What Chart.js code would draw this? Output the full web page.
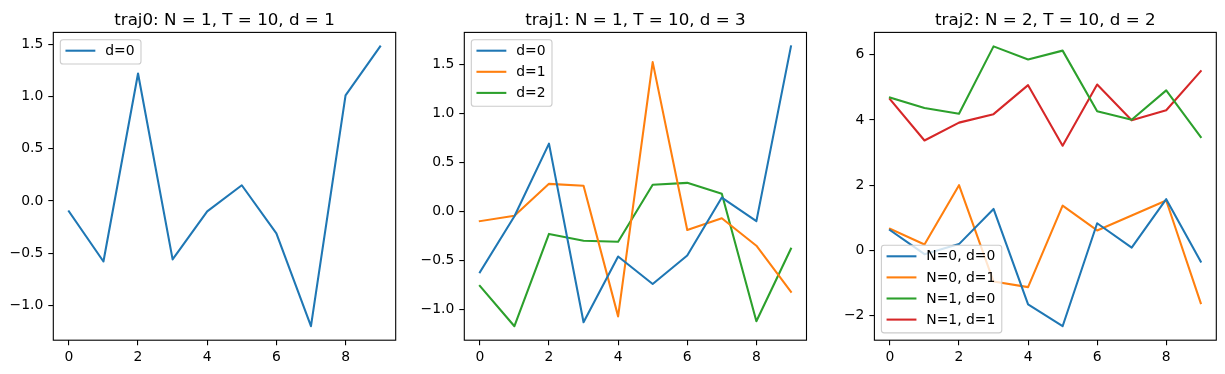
<!DOCTYPE html>
<html><head><meta charset="utf-8">
<script src="https://cdn.jsdelivr.net/npm/chart.js@4.4.0/dist/chart.umd.min.js"></script>
<style>
html,body{margin:0;padding:0;background:#fff;}
#wrap{position:relative;width:1225px;height:374px;background:#fff;}
canvas{position:absolute;left:0;top:0;}
</style>
</head><body>
<div id="wrap">
<canvas id="c0" width="1225" height="374"></canvas>
<canvas id="c1" width="1225" height="374"></canvas>
<canvas id="c2" width="1225" height="374"></canvas>
</div>
<script>
// ---- data ----
const steps = [0, 1, 2, 3, 4, 5, 6, 7, 8, 9];

const traj0_d0 = [-0.10, -0.58, 1.22, -0.56, -0.10, 0.15, -0.31, -1.20, 1.01, 1.48];

const traj1_d0 = [-0.62, -0.05, 0.69, -1.13, -0.46, -0.74, -0.45, 0.14, -0.10, 1.68];
const traj1_d1 = [-0.10, -0.045, 0.28, 0.26, -1.07, 1.52, -0.19, -0.07, -0.35, -0.82];
const traj1_d2 = [-0.76, -1.17, -0.23, -0.30, -0.31, 0.27, 0.29, 0.18, -1.12, -0.38];

const traj2_n0_d0 = [0.62, -0.12, 0.19, 1.27, -1.66, -2.33, 0.83, 0.08, 1.57, -0.35];
const traj2_n0_d1 = [0.66, 0.18, 2.00, -0.96, -1.13, 1.37, 0.61, 1.07, 1.53, -1.62];
const traj2_n1_d0 = [4.69, 4.37, 4.19, 6.26, 5.86, 6.13, 4.27, 4.01, 4.91, 3.48];
const traj2_n1_d1 = [4.64, 3.37, 3.92, 4.18, 5.07, 3.21, 5.09, 3.99, 4.30, 5.50];

const xTicks = [0, 2, 4, 6, 8];
const xTickLabels = ['0', '2', '4', '6', '8'];
const yTicks01 = [-1.0, -0.5, 0.0, 0.5, 1.0, 1.5];
const yTickLabels01 = ['\u22121.0', '\u22120.5', '0.0', '0.5', '1.0', '1.5'];
const yTicks2 = [-2, 0, 2, 4, 6];
const yTickLabels2 = ['\u22122', '0', '2', '4', '6'];

const titles = ['traj0: N = 1, T = 10, d = 1', 'traj1: N = 1, T = 10, d = 3', 'traj2: N = 2, T = 10, d = 2'];
const C = ['#1f77b4', '#ff7f0e', '#2ca02c', '#d62728'];

// ---- layout ----
const W = 1225, H = 374;
const FONT = 'DejaVu Sans';
const FS = 13.9, TFS = 16.7;
const Y_W = 44, X_H = 30;

const framePlugin = {
  id: 'frame',
  afterDatasetsDraw(chart, args, opts) {
    const ctx = chart.ctx, a = chart.chartArea;
    ctx.save();
    // spines
    ctx.strokeStyle = '#000';
    ctx.lineWidth = 1.1;
    ctx.strokeRect(a.left, a.top, a.right - a.left, a.bottom - a.top);
    // title
    ctx.fillStyle = '#000';
    ctx.font = TFS + 'px "' + FONT + '"';
    ctx.textAlign = 'center';
    ctx.textBaseline = 'alphabetic';
    ctx.fillText(opts.title, (a.left + a.right) / 2, a.top - 7.5);
    // legend
    const ds = chart.data.datasets;
    ctx.font = FS + 'px "' + FONT + '"';
    let tw = 0;
    ds.forEach(d => { tw = Math.max(tw, ctx.measureText(d.label).width); });
    const bw = 44.9 + tw + 6.5;
    const bh = 3.2 + 21.1 * ds.length;
    const bx = a.left + 7;
    const by = opts.loc === 'lower left' ? a.bottom - 7.3 - bh : a.top + 7.3;
    const r = 2.8;
    ctx.beginPath();
    ctx.moveTo(bx + r, by);
    ctx.lineTo(bx + bw - r, by);
    ctx.arcTo(bx + bw, by, bx + bw, by + r, r);
    ctx.lineTo(bx + bw, by + bh - r);
    ctx.arcTo(bx + bw, by + bh, bx + bw - r, by + bh, r);
    ctx.lineTo(bx + r, by + bh);
    ctx.arcTo(bx, by + bh, bx, by + bh - r, r);
    ctx.lineTo(bx, by + r);
    ctx.arcTo(bx, by, bx + r, by, r);
    ctx.closePath();
    ctx.fillStyle = 'rgba(255,255,255,0.8)';
    ctx.fill();
    ctx.strokeStyle = '#cccccc';
    ctx.lineWidth = 1.1;
    ctx.stroke();
    ds.forEach((d, i) => {
      const cy = by + 11 + 21.1 * i;
      ctx.beginPath();
      ctx.strokeStyle = d.borderColor;
      ctx.lineWidth = 2.08;
      ctx.lineCap = 'square';
      ctx.moveTo(bx + 6.2, cy);
      ctx.lineTo(bx + 6.2 + 27.8, cy);
      ctx.stroke();
      ctx.fillStyle = '#000';
      ctx.textAlign = 'left';
      ctx.textBaseline = 'middle';
      ctx.fillText(d.label, bx + 44.9, cy + 0.5);
    });
    ctx.restore();
  }
};

function makeChart(id, box, title, series, yTicks, yTickLabels, loc) {
  const all = series.flatMap(s => s.values);
  const lo = Math.min(...all), hi = Math.max(...all), m = (hi - lo) * 0.05;
  const x0 = steps[0], x1 = steps[steps.length - 1], xm = (x1 - x0) * 0.05;
  const tickFont = { family: FONT, size: FS };
  const grid = { drawOnChartArea: false, drawTicks: true, tickLength: 5, color: '#000', lineWidth: 1.1, tickWidth: 1.1, tickColor: '#000' };
  return new Chart(document.getElementById(id), {
    type: 'line',
    data: {
      datasets: series.map(s => ({
        label: s.label,
        data: steps.map((x, i) => ({ x: x, y: s.values[i] })),
        borderColor: s.color,
        backgroundColor: s.color,
        borderWidth: 2.08,
        pointRadius: 0,
        pointHoverRadius: 0,
        tension: 0,
        fill: false,
        borderJoinStyle: 'round',
        borderCapStyle: 'square'
      }))
    },
    options: {
      responsive: false,
      animation: false,
      devicePixelRatio: 1,
      events: [],
      layout: { padding: { left: box.left - Y_W, right: W - box.right, top: box.top, bottom: H - box.bottom - X_H } },
      plugins: {
        legend: { display: false },
        tooltip: { enabled: false },
        title: { display: false },
        frame: { title: title, loc: loc }
      },
      scales: {
        x: {
          type: 'linear',
          min: x0 - xm, max: x1 + xm,
          afterFit: s => { s.height = X_H; },
          afterBuildTicks: s => { s.ticks = xTicks.map(v => ({ value: v })); },
          ticks: { callback: (v, i) => xTickLabels[i], color: '#000', font: tickFont, padding: 4, autoSkip: false, maxRotation: 0, minRotation: 0 },
          grid: grid,
          border: { display: false }
        },
        y: {
          type: 'linear',
          min: lo - m, max: hi + m,
          afterFit: s => { s.width = Y_W; },
          afterBuildTicks: s => { s.ticks = yTicks.map(v => ({ value: v })); },
          ticks: { callback: (v, i) => yTickLabels[i], color: '#000', font: tickFont, padding: 5, autoSkip: false },
          grid: grid,
          border: { display: false }
        }
      }
    },
    plugins: [framePlugin]
  });
}

makeChart('c0', { left: 53.3, right: 395.7, top: 32.4, bottom: 340.2 }, titles[0],
  [{ label: 'd=0', values: traj0_d0, color: C[0] }], yTicks01, yTickLabels01, 'upper left');

makeChart('c1', { left: 464.3, right: 806.5, top: 32.4, bottom: 340.2 }, titles[1],
  [{ label: 'd=0', values: traj1_d0, color: C[0] },
   { label: 'd=1', values: traj1_d1, color: C[1] },
   { label: 'd=2', values: traj1_d2, color: C[2] }], yTicks01, yTickLabels01, 'upper left');

makeChart('c2', { left: 874.4, right: 1216.3, top: 32.4, bottom: 340.2 }, titles[2],
  [{ label: 'N=0, d=0', values: traj2_n0_d0, color: C[0] },
   { label: 'N=0, d=1', values: traj2_n0_d1, color: C[1] },
   { label: 'N=1, d=0', values: traj2_n1_d0, color: C[2] },
   { label: 'N=1, d=1', values: traj2_n1_d1, color: C[3] }], yTicks2, yTickLabels2, 'lower left');
</script>
</body></html>
